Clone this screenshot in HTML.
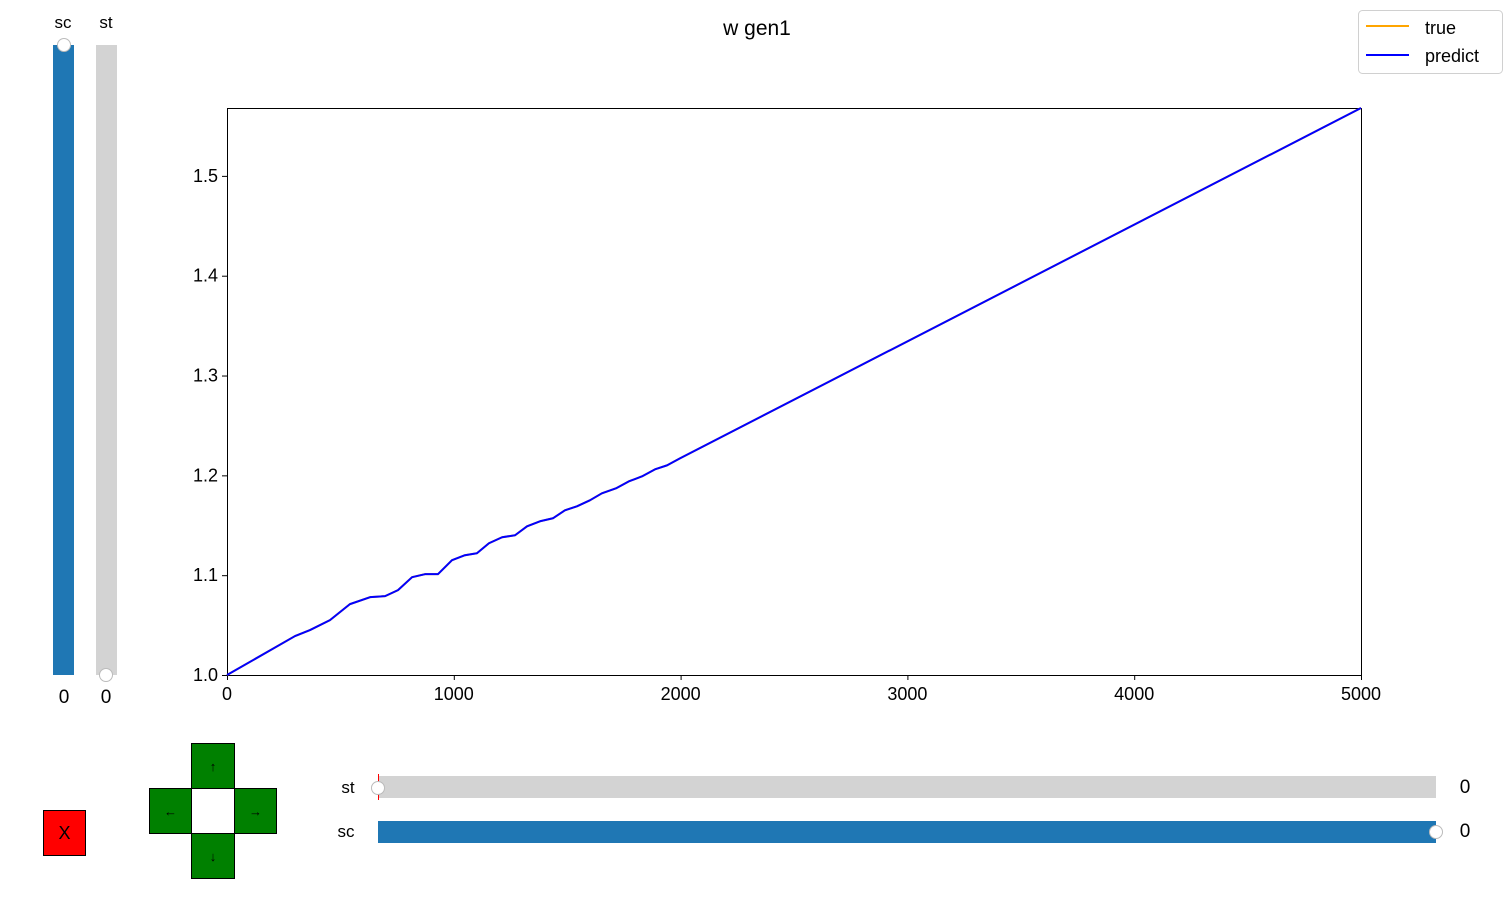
<!DOCTYPE html>
<html><head><meta charset="utf-8"><style>
body{margin:0;width:1512px;height:900px;background:#fff;overflow:hidden;font-family:"Liberation Sans","DejaVu Sans",sans-serif;}
.abs{position:absolute;}
.btn{position:absolute;background:green;border:1px solid #000;box-sizing:border-box;display:flex;align-items:center;justify-content:center;font-size:13px;color:#000;}
.lbl{position:absolute;font-size:17px;transform:translate(-50%,-50%);}
.knob{position:absolute;width:14px;height:14px;border-radius:50%;background:#fff;border:1px solid #bbb;box-sizing:border-box;transform:translate(-50%,-50%);}
</style></head><body>
<div class="lbl" style="left:63px;top:23px;">sc</div>
<div class="lbl" style="left:106px;top:23px;">st</div>
<div class="abs" style="left:53px;top:45px;width:21px;height:630px;background:#1f77b4;"></div>
<div class="abs" style="left:96px;top:45px;width:21px;height:630px;background:#d3d3d3;"></div>
<div class="knob" style="left:64px;top:45px;"></div>
<div class="knob" style="left:106px;top:675px;"></div>
<div class="lbl" style="left:64px;top:698px;font-size:19px;">0</div>
<div class="lbl" style="left:106px;top:698px;font-size:19px;">0</div>

<div class="btn" style="left:43px;top:810px;width:43px;height:46px;background:red;font-size:18px;">X</div>
<div class="btn" style="left:191px;top:743px;width:44px;height:46px;">↑</div>
<div class="btn" style="left:149px;top:788px;width:43px;height:46px;">←</div>
<div class="btn" style="left:234px;top:788px;width:43px;height:46px;">→</div>
<div class="btn" style="left:191px;top:833px;width:44px;height:46px;">↓</div>

<div class="lbl" style="left:348px;top:788px;">st</div>
<div class="lbl" style="left:346px;top:832px;">sc</div>
<div class="abs" style="left:378px;top:776px;width:1058px;height:22px;background:#d3d3d3;"></div>
<div class="abs" style="left:378px;top:821px;width:1058px;height:22px;background:#1f77b4;"></div>
<div class="abs" style="left:378px;top:774px;width:1px;height:26px;background:red;"></div>
<div class="knob" style="left:378px;top:788px;"></div>
<div class="knob" style="left:1436px;top:832px;"></div>
<div class="lbl" style="left:1465px;top:788px;font-size:19px;">0</div>
<div class="lbl" style="left:1465px;top:832px;font-size:19px;">0</div>

<svg class="abs" style="left:0;top:0" width="1512" height="900" id="chart">
<text x="757" y="35" text-anchor="middle" font-size="21" font-family="Liberation Sans, sans-serif">w gen1</text>
<g>
<rect x="1358.5" y="10.5" width="144" height="63" rx="4" fill="#fff" stroke="#d0d0d0"/>
<line x1="1366" y1="26" x2="1409" y2="26" stroke="orange" stroke-width="2"/>
<text x="1425" y="34" font-size="18" font-family="Liberation Sans, sans-serif">true</text>
<line x1="1366" y1="55" x2="1409" y2="55" stroke="blue" stroke-width="2"/>
<text x="1425" y="62" font-size="18" font-family="Liberation Sans, sans-serif">predict</text>
</g>
<g id="axes"></g>
</svg>
<script>
const xs=[0,300,366,454,542,631,697,754,816,873,930,992,1049,1102,1155,1213,1270,1323,1380,1437,1490,1543,1600,1653,1715,1772,1830,1887,1940,1997,5000];
const ys=[1.0,1.039,1.045,1.055,1.071,1.078,1.079,1.085,1.098,1.101,1.101,1.115,1.120,1.122,1.132,1.138,1.140,1.149,1.154,1.157,1.165,1.169,1.175,1.182,1.187,1.194,1.199,1.206,1.210,1.217,1.568];
const trueYs=ys.slice();
const xTicks=[0,1000,2000,3000,4000,5000];
const yTicks=[1.0,1.1,1.2,1.3,1.4,1.5];
const X0=227,X1=1361,Y0=675,Y1=108,xmin=0,xmax=5000,ymin=1.0,ymax=1.568;
const sx=v=>X0+(v-xmin)/(xmax-xmin)*(X1-X0);
const sy=v=>Y0-(v-ymin)/(ymax-ymin)*(Y0-Y1);
const g=document.getElementById('axes');
const NS='http://www.w3.org/2000/svg';
function mk(t,a){const e=document.createElementNS(NS,t);for(const k in a)e.setAttribute(k,a[k]);g.appendChild(e);return e;}
const fr=mk('rect',{x:X0+0.5,y:Y1+0.5,width:X1-X0,height:Y0-Y1,fill:'none',stroke:'#000','stroke-width':1});


xTicks.forEach(t=>{mk('line',{x1:sx(t)+0.5,x2:sx(t)+0.5,y1:Y0,y2:Y0+5,stroke:'#000'});
const tx=mk('text',{x:sx(t),y:Y0+25,'text-anchor':'middle','font-size':18,'font-family':'Liberation Sans, sans-serif'});tx.textContent=t;

});
yTicks.forEach(t=>{mk('line',{x1:X0-5,x2:X0,y1:sy(t)+0.5,y2:sy(t)+0.5,stroke:'#000'});
const tx=mk('text',{x:X0-9,y:sy(t)+6,'text-anchor':'end','font-size':18,'font-family':'Liberation Sans, sans-serif'});tx.textContent=t.toFixed(1);

});
const pt=(a,b)=>a.map((v,i)=>sx(v)+','+sy(b[i])).join(' ');
const l1=mk('polyline',{points:pt(xs,trueYs),fill:'none',stroke:'orange','stroke-width':2});


const l2=mk('polyline',{points:pt(xs,ys),fill:'none',stroke:'blue','stroke-width':2,'stroke-linejoin':'round'});


</script>
</body></html>
